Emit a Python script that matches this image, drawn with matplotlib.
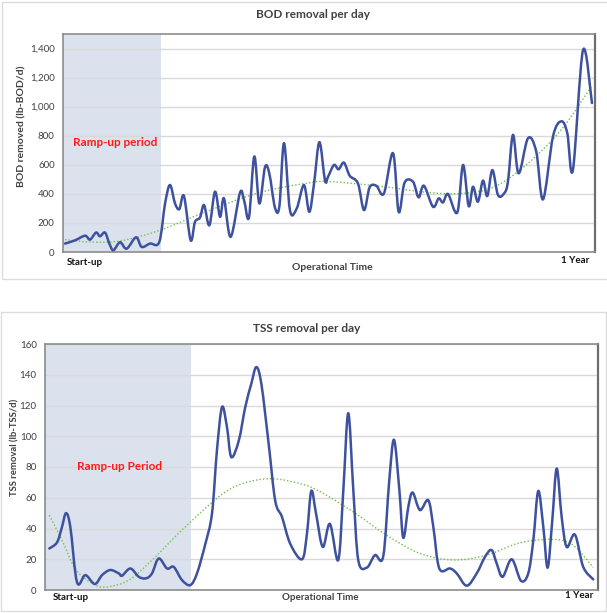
import numpy as np
import matplotlib
matplotlib.use("Agg")
import matplotlib.pyplot as plt
from matplotlib.path import Path
from matplotlib.patches import PathPatch, Rectangle
from matplotlib.ticker import FuncFormatter

# ---- BOD removal per day (lb-BOD/d), day of first year ----
bod_day = [0, 6.9, 13.9, 17.3, 21.5, 24.2, 27.7, 30.7, 33.5, 38.1, 42.7, 49.2, 53.1,
           58.9, 65.3, 69.3, 72.7, 76.2, 79.2, 82.4, 87.0, 90.0, 93.5, 96.3, 100.0,
           103.9, 107.4, 110.1, 114.7, 121.2, 124.0, 127.4, 131.1, 134.6, 138.5,
           141.5, 145.4, 148.5, 151.7, 155.8, 160.5, 165.5, 169.2, 172.5, 176.2,
           180.1, 182.2, 186.3, 189.5, 193.2, 197.2, 202.9, 207.1, 211.0, 215.6,
           220.9, 227.2, 231.1, 235.2, 241.0, 244.9, 248.6, 254.9, 258.8, 261.8,
           265.3, 271.7, 275.7, 279.6, 282.6, 286.0, 289.5, 292.5, 296.0, 299.9,
           304.1, 306.8, 310.3, 314.2, 320.7, 326.4, 331.1, 338.0, 343.7, 347.9,
           351.8, 358.8, 365.0]
bod_val = [58, 80, 112, 85, 134, 108, 134, 58, 12, 67, 23, 101, 35,
           58, 69, 334, 461, 334, 295, 385, 81, 207, 237, 323, 184,
           415, 242, 369, 104, 408, 357, 237, 657, 334, 583,
           541, 306, 316, 749, 288, 300, 461, 276, 472, 756,
           491, 518, 599, 569, 615, 525, 472, 288, 445, 456,
           403, 680, 276, 477, 484, 376, 456, 311, 369, 341,
           399, 272, 599, 316, 449, 346, 491, 385, 564, 392,
           403, 484, 806, 541, 783, 691, 362, 795, 899, 818,
           564, 1389, 1025]
bod_trend_day = [0, 17.3, 38.1, 65.8, 100.4, 135.0, 169.7, 184.0, 216.8, 251.4,
                 274.5, 297.6, 320.7, 343.7, 364.5]
bod_trend_val = [85, 69, 76, 150, 288, 410, 477, 484, 454, 410,
                 403, 449, 610, 841, 1136]

# ---- TSS removal per day (lb-TSS/d) ----
tss_day = [0, 5.2, 8.5, 11.2, 14.1, 18.6, 24.2, 30.5, 35.4, 40.9, 46.6, 48.8, 54.4,
           60.0, 64.9, 68.9, 73.4, 79.0, 83.5, 89.0, 94.6, 99.1, 104.7, 109.2,
           112.5, 115.9, 119.2, 122.1, 127.1, 131.5, 135.5, 138.9, 142.3, 147.2,
           151.6, 156.1, 161.7, 169.6, 172.9, 175.8, 179.0, 183.5, 188.3, 193.9,
           197.3, 200.6, 204.0, 207.3, 213.0, 218.5, 224.1, 228.1, 231.3, 234.9,
           237.5, 240.9, 243.8, 248.7, 254.3, 257.7, 261.7, 268.9, 273.4, 280.1,
           286.8, 292.4, 296.8, 300.2, 304.2, 310.3, 316.5, 321.4, 324.8, 328.1,
           331.5, 334.4, 337.5, 340.5, 343.8, 347.2, 352.7, 358.3, 365.0]
tss_val = [27, 31, 41, 50, 41, 5, 9.7, 3.9, 9.7, 13, 10.8, 9.3, 14,
           8.6, 7.6, 10.8, 20.5, 14, 15, 6.5, 3.2, 10.8, 30, 50,
           91, 119, 106, 86.5, 97, 119, 134, 145, 134, 95,
           58, 47.6, 30, 20, 36.8, 64.4, 49.7, 28, 43, 19.5,
           65, 115, 65, 19.5, 14.5, 22.7, 22, 71, 97.7, 65,
           34, 54, 63.4, 52, 58.4, 41, 14, 14, 10.8, 2.8,
           10.8, 21.6, 26, 17.3, 8.6, 20, 6, 10.8, 32.4, 64.4,
           41, 14.5, 45, 79, 47.6, 28, 36, 15, 6.9]
tss_trend_day = [0, 8.5, 18, 31, 40, 53.5, 69, 89, 113.6, 129, 149, 169.6, 182,
                 204, 226.3, 248.7, 271, 293.5, 315.8, 338.1, 351.5, 365]
tss_trend_val = [48.6, 32.4, 13, 3.2, 2.2, 6.5, 19.5, 39, 60.5, 69, 72.4, 68.8, 63.8,
                 50.8, 35.7, 23.8, 19.5, 22.7, 30.7, 32.9, 29.2, 14.7]

BLUE = "#3d519f"
GREEN = "#70c04a"
SHADE = "#dbe2ee"
GRID = "#d9d9d9"
SPINE = "#8c8c8c"
TXT = "#404040"

plt.rcParams["font.family"] = ["Lato", "DejaVu Sans"]

W, H = 607, 613


def smooth_path(x, y):
    # Excel-style smoothed line: cubic Bezier segments through the points
    x = np.asarray(x, float)
    y = np.asarray(y, float)
    n = len(x)
    verts = [(x[0], y[0])]
    codes = [Path.MOVETO]
    for i in range(n - 1):
        j0 = max(i - 1, 0)
        j3 = min(i + 2, n - 1)
        c1 = (x[i] + (x[i + 1] - x[j0]) / 6, y[i] + (y[i + 1] - y[j0]) / 6)
        c2 = (x[i + 1] - (x[j3] - x[i]) / 6, y[i + 1] - (y[j3] - y[i]) / 6)
        verts += [c1, c2, (x[i + 1], y[i + 1])]
        codes += [Path.CURVE4] * 3
    return Path(verts, codes)


def px_axes(fig, left, top, right, bottom):
    return fig.add_axes([left / W, 1 - bottom / H, (right - left) / W, (bottom - top) / H])


def style_axes(ax):
    ax.grid(axis="y", color=GRID, lw=1)
    ax.set_axisbelow(True)
    ax.set_xticks([])
    ax.tick_params(axis="y", length=0, labelsize=7, labelcolor=TXT, pad=6)
    for s in ax.spines.values():
        s.set_color(SPINE)
        s.set_linewidth(1.2)
    ax.spines["right"].set_color("#6e6e6e")
    ax.spines["right"].set_linewidth(1.6)


fig = plt.figure(figsize=(W / 100, H / 100), dpi=100)

# chart frames
fig.add_artist(Rectangle((2 / W, 1 - 279 / H), 606 / W, 277 / H, transform=fig.transFigure,
                         fill=False, ec="#dcdcdc", lw=1))
fig.add_artist(Rectangle((0.5 / W, 1 - 611 / H), 605.5 / W, 299 / H, transform=fig.transFigure,
                         fill=False, ec="#dcdcdc", lw=1))

# ---- top: BOD ----
ax1 = px_axes(fig, 63, 34, 595, 252)
ax1.set_xlim(-1.4, 367.1)
ax1.set_ylim(0, 1500)
ax1.set_yticks(range(0, 1401, 200))
ax1.yaxis.set_major_formatter(FuncFormatter(lambda v, p: f"{int(v):,}"))
style_axes(ax1)
ax1.axvspan(-1.4, 66.5, color=SHADE, lw=0, zorder=0.5)
ax1.add_patch(PathPatch(smooth_path(bod_trend_day, bod_trend_val), fill=False,
                        ec=GREEN, lw=1.0, ls=(0, (1, 1.5)), zorder=2))
ax1.add_patch(PathPatch(smooth_path(bod_day, bod_val), fill=False, ec=BLUE, lw=1.8,
                        capstyle="round", joinstyle="round", zorder=3))
ax1.text(0.018, 0.5, "Ramp-up period", transform=ax1.transAxes, color="#ff1a1a",
         fontsize=8.5, fontweight="bold", va="center")

fig.text(313 / W, 1 - 14 / H, "BOD removal per day", ha="center", va="center",
         fontsize=8.5, fontweight="bold", color=TXT)
fig.text(22 / W, 1 - 126 / H, "BOD removed (lb-BOD/d)", rotation=90, ha="center",
         va="center", fontsize=7.5, fontweight="bold", color=TXT)
fig.text(67 / W, 1 - 262 / H, "Start-up", ha="left", va="center", fontsize=7,
         fontweight="bold", color="#111111")
fig.text(332 / W, 1 - 267 / H, "Operational Time", ha="center", va="center", fontsize=7.5,
         fontweight="bold", color=TXT)
fig.text(589 / W, 1 - 261 / H, "1 Year", ha="right", va="center", fontsize=7,
         fontweight="bold", color="#111111")

# ---- bottom: TSS ----
ax2 = px_axes(fig, 45, 344, 598, 590)
ax2.set_xlim(-2.9, 368.2)
ax2.set_ylim(0, 160)
ax2.set_yticks(range(0, 161, 20))
style_axes(ax2)
ax2.axvspan(-2.9, 95.1, color=SHADE, lw=0, zorder=0.5)
ax2.add_patch(PathPatch(smooth_path(tss_trend_day, tss_trend_val), fill=False,
                        ec=GREEN, lw=1.0, ls=(0, (1, 1.5)), zorder=2))
ax2.add_patch(PathPatch(smooth_path(tss_day, tss_val), fill=False, ec=BLUE, lw=1.8,
                        capstyle="round", joinstyle="round", zorder=3))
ax2.text(0.057, 0.5, "Ramp-up Period", transform=ax2.transAxes, color="#ff1a1a",
         fontsize=8.5, fontweight="bold", va="center")

fig.text(307 / W, 1 - 328 / H, "TSS removal per day", ha="center", va="center",
         fontsize=8.5, fontweight="bold", color=TXT)
fig.text(15 / W, 1 - 447 / H, "TSS removal (lb-TSS/d)", rotation=90, ha="center",
         va="center", fontsize=6.8, fontweight="bold", color=TXT)
fig.text(53 / W, 1 - 597 / H, "Start-up", ha="left", va="center", fontsize=7,
         fontweight="bold", color="#111111")
fig.text(320 / W, 1 - 597 / H, "Operational Time", ha="center", va="center", fontsize=7,
         fontweight="bold", color=TXT)
fig.text(593 / W, 1 - 596 / H, "1 Year", ha="right", va="center", fontsize=7,
         fontweight="bold", color="#111111")

fig.savefig("out.png", dpi=100, facecolor="white")
